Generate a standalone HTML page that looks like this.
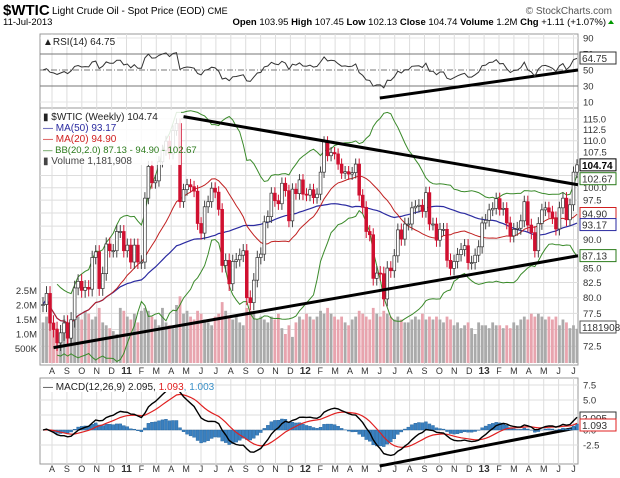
<!DOCTYPE html>
<html><head><meta charset="utf-8"><style>
body{margin:0;background:#fff;}
svg{display:block;font-family:"Liberation Sans",sans-serif;}
</style></head><body>
<svg id="c" width="620" height="478" viewBox="0 0 620 478">
<text x="3" y="15" font-size="15" font-weight="bold">$WTIC</text>
<text x="52" y="14" font-size="10">Light Crude Oil - Spot Price (EOD) <tspan font-size="9">CME</tspan></text>
<text x="612" y="14" font-size="10" fill="#555" text-anchor="end">© StockCharts.com</text>
<text x="3" y="25" font-size="9.5">11-Jul-2013</text>
<text x="606" y="25" font-size="9.5" text-anchor="end"><tspan font-weight="bold">Open</tspan> 103.95 <tspan font-weight="bold">High</tspan> 107.45 <tspan font-weight="bold">Low</tspan> 102.13 <tspan font-weight="bold">Close</tspan> 104.74 <tspan font-weight="bold">Volume</tspan> 1.2M <tspan font-weight="bold">Chg</tspan> +1.11 (+1.07%)</text>
<polygon points="608,24 614,24 611,20" fill="#090"/>
<g id="g"></g>
</svg>
<script>
const closes=[78.9,
80.7,76,75,73, 74.5,76,73.7,76.5, 81.6,82.7,81.2,81.7,81.4, 86.8,87.8,81.5,84, 89.2,88,88,91.5,
91.5,88,89,86, 89,86,86,97.9, 104.4,101,101.4,105.4, 107.9,109.9,107.1,112.3, 113.9,97.2,99.6,100.6, 100.2,99.3,93,91.2,
96.2,97.2,99.9,99.1, 95.7,85.4,86.3,82.3,86.1, 86.4,87.2,88,80,79.2, 82.9,86.8,87.4,93.3, 94.3,98.9,97.4,96.8, 100.9,99.4,93.5,99.7,98.8,
101.6,98.7,98.5,99.6, 98,98.7,103.2,109.8, 106.7,107.4,107.1,104.9,103, 103.3,102.8,103.1,104.9, 98.5,96.1,91.5,90.9, 83.2,84.1,84,79.8,84.96,
84.5,87.1,91.8,90.1, 92.9,92.9,96,96.3,96.5, 95.3,99,92.9,92.9, 89.9,91.9,91.9,86.3, 84.9,86.1,87.3,88.2,88.9, 85.9,85.9,87.2,88.7,
93.1,93.6,95.6,95.9, 97.8,95.7,95.9,93.1,90.7, 91.9,92.1,93.5,97.2, 92.7,91.3,88,93, 95.6,96,95.2,94.1,91.97, 96,97.9,93.7,96.6, 103.2,104.74];
const volumes=[1.4,
1.6,1.9,1.3,1.2, 1.0,1.5,1.4,1.3, 1.7,1.6,1.5,1.8,1.7, 1.5,1.6,1.9,1.4, 1.3,1.2,1.1,1.0,
1.9,1.8,1.6,1.5, 1.7,1.4,1.8,1.9, 1.8,1.6,1.5,1.3, 1.9,1.4,1.3,1.2, 2.0,2.3,1.7,1.8, 1.6,1.5,1.8,1.7,
1.5,1.4,1.3,1.6, 1.7,2.1,1.8,1.6,1.5, 1.6,1.4,1.3,1.9,1.8, 1.7,1.5,1.6,1.5, 1.4,1.6,1.5,1.7, 1.2,1.0,1.3,0.9,1.4,
1.6,1.5,1.7,1.6, 1.5,1.6,1.8,1.7, 1.9,1.7,1.6,1.5,1.6, 1.4,1.3,1.5,1.6, 1.8,1.7,1.6,1.5, 1.9,1.7,1.6,1.8,1.7,
1.6,1.5,1.6,1.5, 1.4,1.4,1.5,1.6,1.5, 1.7,1.5,1.6,1.5, 1.6,1.5,1.4,1.6, 1.5,1.3,1.4,1.2,1.3, 1.4,1.2,1.0,1.4,
1.3,1.3,1.2,1.4, 1.3,1.3,1.2,1.3,1.2, 1.4,1.3,1.5,1.6, 1.5,1.7,1.6,1.7, 1.6,1.5,1.6,1.5,1.6, 1.3,1.5,1.4,1.2, 1.3,1.18];
const monthLabels=["A","S","O","N","D","11","F","M","A","M","J","J","A","S","O","N","D","12","F","M","A","M","J","J","A","S","O","N","D","13","F","M","A","M","J","J"];
const priceTicks=[115,112.5,110,107.5,105,102.5,100,97.5,95,92.5,90,87.5,85,82.5,80,77.5,75,72.5];
const volTicks=[2.5,2.0,1.5,1.0,0.5];
const rsiTicks=[90,70,50,30,10];
const macdTicks=[7.5,5,2.5,0,-2.5];

const NS="http://www.w3.org/2000/svg", G=document.getElementById('g');
function el(t,a,p){const e=document.createElementNS(NS,t);for(const k in a)e.setAttribute(k,a[k]);(p||G).appendChild(e);return e;}
const L=40,R=578,N=closes.length,step=(R-L-4)/(N-1);
const X=i=>L+3+i*step;
const Y=p=>187.7-493*Math.log(p/100);
const YV=v=>363-v*29;
const YR=r=>70-(r-50)*0.8;
const YM=m=>430-m*6;
const MX=i=>52+i*14.9;

const panels=[[34,108,'rsi-panel'],[108,365,'price-panel'],[378,464,'macd-panel']];
for(const p of panels){const r=el('rect',{x:L,y:p[0],width:R-L,height:p[1]-p[0],fill:'#fff',stroke:'#999'});

}
monthLabels.forEach((m,i)=>{
 for(const p of panels){const l=el('line',{x1:MX(i),x2:MX(i),y1:p[0],y2:p[1],stroke:'#ddd'});
 
 }
 for(const yy of [374,472]){const t=el('text',{x:MX(i),y:yy,'font-size':m.length>1?10:9,'font-weight':m.length>1?'bold':'normal','text-anchor':'middle',fill:'#333'});t.textContent=m;
 
 }
});
priceTicks.forEach(p=>{
 const l=el('line',{x1:L,x2:R,y1:Y(p),y2:Y(p),stroke:'#ddd'});
 
 
 const t=el('text',{x:583,y:Y(p)+3.5,'font-size':9.5,fill:'#333'});t.textContent=p.toFixed(1);
 
 
});
volTicks.forEach(v=>{
 const t=el('text',{x:37,y:YV(v)+3.5,'font-size':9.5,'text-anchor':'end',fill:'#333'});t.textContent=v>=1?v.toFixed(1)+'M':'500K';
 
 
});
rsiTicks.forEach(r=>{
 const t=el('text',{x:583,y:YR(r)+3.5,'font-size':9.5,fill:'#333'});t.textContent=r;
 
 
 if(r===70||r===30){const l=el('line',{x1:L,x2:R,y1:YR(r),y2:YR(r),stroke:'#777'});
 
 }
 else if(r===50){const l=el('line',{x1:L,x2:R,y1:YR(r),y2:YR(r),stroke:'#777','stroke-dasharray':'6,2,1,2'});
 
 }
 else{const l=el('line',{x1:L,x2:R,y1:YR(r),y2:YR(r),stroke:'#e4e4e4'});
 
 }
});
macdTicks.forEach(m=>{
 const l=el('line',{x1:L,x2:R,y1:YM(m),y2:YM(m),stroke:'#ddd'});
 
 
 const t=el('text',{x:583,y:YM(m)+3.5,'font-size':9.5,fill:'#333'});t.textContent=m.toFixed(1);
 
 
});

const opens=closes.map((c,i)=>i?closes[i-1]:c);
volumes.forEach((v,i)=>{
 const up=closes[i]>=opens[i];
 const b=el('rect',{x:X(i)-1.4,y:YV(v),width:2.8,height:363-YV(v),fill:up?'#aaa':'#e8a4ae'});
 
 
});

function sma(a,n){return a.map((_,i)=>{const s=a.slice(Math.max(0,i-n+1),i+1);return s.reduce((x,y)=>x+y,0)/s.length;});}
function sd(a,n,m){return a.map((_,i)=>{const s=a.slice(Math.max(0,i-n+1),i+1);return Math.sqrt(s.reduce((x,y)=>x+(y-m[i])**2,0)/s.length);});}
function ema(a,n){const k=2/(n+1);let e=a[0];return a.map(v=>e=v*k+e*(1-k));}
const ma20=sma(closes,20),ma50=sma(closes,50),dev=sd(closes,20,ma20);
const bbU=ma20.map((m,i)=>m+2*dev[i]),bbL=ma20.map((m,i)=>m-2*dev[i]);
function poly(arr,f,col,w,name,start){
 const pts=arr.map((v,i)=>[X(i),f(v)]).slice(start||0).map(p=>p[0].toFixed(1)+','+p[1].toFixed(1)).join(' ');
 const l=el('polyline',{points:pts,fill:'none',stroke:col,'stroke-width':w});
 
 
}
poly(bbU,Y,'#3a8a2a',1,'bollinger-upper',4);
poly(bbL,Y,'#3a8a2a',1,'bollinger-lower',4);
poly(ma50,Y,'#2a2aa0',1.2,'ma50-line');
poly(ma20,Y,'#c02020',1,'ma20-line',2);

closes.forEach((c,i)=>{
 const o=opens[i],up=c>=o,hi=Math.max(o,c)+1.2,lo=Math.min(o,c)-1.2;
 const w=el('line',{x1:X(i),x2:X(i),y1:Y(hi),y2:Y(lo),stroke:up?'#444':'#d01030'});
 
 
 const b=el('rect',{x:X(i)-1.4,y:Y(Math.max(o,c)),width:2.8,height:Math.max(1,Y(Math.min(o,c))-Y(Math.max(o,c))),fill:up?'#fff':'#d01030',stroke:up?'#333':'#d01030','stroke-width':0.7});
 
 
});

function tl(x1,y1,x2,y2,name){const l=el('line',{x1,y1,x2,y2,stroke:'#000','stroke-width':3});
 
 }
tl(X(40),Y(115.5),R,Y(100.6),'upper-trendline');
tl(X(3),Y(72.3),R,Y(87.1),'lower-trendline');
tl(MX(22),YR(15),R,YR(50),'rsi-trendline');
tl(MX(22),YM(-6),R,YM(0.4),'macd-trendline');

// RSI (Wilder, seeded neutral to avoid warm-up spikes)
const rsi=[];let ag=2,al=2;
closes.forEach((c,i)=>{if(!i){rsi.push(50);return;}const d=c-closes[i-1];
 ag=(ag*13+Math.max(d,0))/14;al=(al*13+Math.max(-d,0))/14;
 rsi.push(100-100/(1+ag/al));});
poly(rsi,YR,'#333',1,'rsi-line');

const e12=ema(closes,12),e26=ema(closes,26),macd=e12.map((v,i)=>v-e26[i]),sig=ema(macd,9),hist=macd.map((v,i)=>v-sig[i]);
hist.forEach((h,i)=>{const b=el('rect',{x:X(i)-1.5,y:Math.min(YM(0),YM(h)),width:3,height:Math.abs(YM(h)-YM(0)),fill:'#3a80c0',stroke:'#1f5f99','stroke-width':0.4});
 
 });
poly(sig,YM,'#e02020',1.2,'macd-signal-line');
poly(macd,YM,'#000',1.4,'macd-line');

function txt(x,y,s,col,name,fs){const t=el('text',{x,y,'font-size':fs||10,fill:col||'#000'});t.textContent=s;
 
 return t;}
el('rect',{x:41,y:35,width:76,height:12,fill:'#fff'});
txt(43,45,'▲RSI(14) 64.75','#222','rsi-legend');
el('rect',{x:41,y:110,width:140,height:55,fill:'#fff','fill-opacity':0.85});
txt(43,120,'▮ $WTIC (Weekly) 104.74','#222','price-legend');
txt(43,131,'— MA(50) 93.17','#2a2aa0','ma50-legend');
txt(43,142,'— MA(20) 94.90','#d02020','ma20-legend');
txt(43,153,'— BB(20,2.0) 87.13 - 94.90 - 102.67','#2a7a1a','bb-legend',9.5);
txt(43,164,'▮ Volume 1,181,908','#444','volume-legend');
el('rect',{x:41,y:380,width:155,height:12,fill:'#fff'});
const mt=txt(43,390,'— MACD(12,26,9) 2.095, ','#222','macd-legend');
const s1=document.createElementNS(NS,'tspan');s1.setAttribute('fill','#e02020');s1.textContent='1.093';mt.appendChild(s1);
const s2=document.createElementNS(NS,'tspan');s2.setAttribute('fill','#3a90c8');s2.textContent=', 1.003';mt.appendChild(s2);

function box(y,s,col,name,bold){const r=el('rect',{x:580,y:y-6,width:36,height:12,fill:'#fff',stroke:col});
 
 
 const t=txt(582,y+4,s,bold?'#000':'#333',name+'-value',10);if(bold)t.setAttribute('font-weight','bold');}
box(Y(104.74),'104.74','#000','last-close',true);
box(Y(102.67)+4,'102.67','#2a7a1a','bb-upper');
box(Y(94.9),'94.90','#d02020','ma20');
box(Y(93.17)+2,'93.17','#2a2aa0','ma50');
box(Y(87.13),'87.13','#2a7a1a','bb-lower');
box(327,'1181908','#555','volume-last');
box(58,'64.75','#333','rsi-last');
box(418,'2.095','#333','macd-last');
box(425,'1.093','#e02020','signal-last');
</script>
</body></html>
